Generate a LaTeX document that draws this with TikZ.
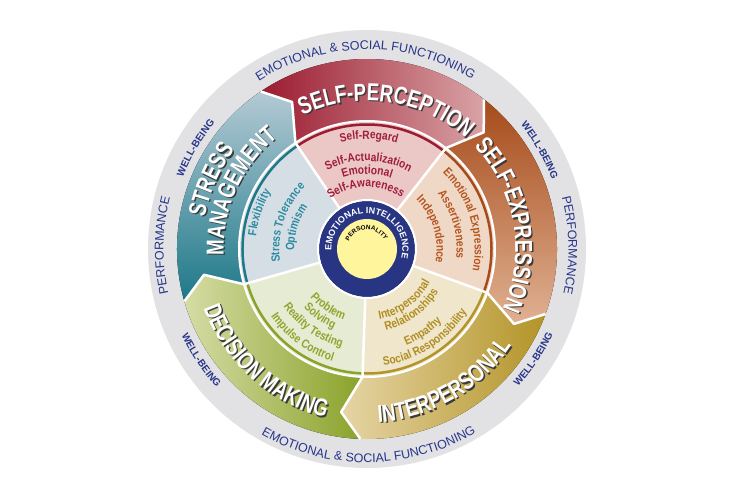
\documentclass[tikz,border=0pt]{standalone}
\usepackage{fontspec}
\setmainfont{Liberation Sans}
\newfontfamily\headfont[FakeStretch=0.76]{Liberation Sans}
\newfontfamily\itemfont[FakeStretch=0.85]{Liberation Sans}
\usetikzlibrary{decorations.text}

\definecolor{ringGray}{HTML}{E2E2E4}
\definecolor{eiNavy}{HTML}{283583}
\definecolor{eiYellow}{HTML}{FFF59D}
\definecolor{txtNavy}{HTML}{27358A}
\definecolor{headShadow}{HTML}{3A3A3A}
\definecolor{spDark}{HTML}{9B1B30}
\definecolor{spLight}{HTML}{D9A3A5}
\definecolor{spPale}{HTML}{EBC7C6}
\definecolor{spText}{HTML}{A11D3D}
\definecolor{seDark}{HTML}{A64B1B}
\definecolor{seLight}{HTML}{E0B192}
\definecolor{sePale}{HTML}{F0D8C6}
\definecolor{seText}{HTML}{B55520}
\definecolor{ipDark}{HTML}{B39427}
\definecolor{ipLight}{HTML}{E6D5A6}
\definecolor{ipPale}{HTML}{EFE6CB}
\definecolor{ipText}{HTML}{B08E22}
\definecolor{dmDark}{HTML}{8AA22A}
\definecolor{dmLight}{HTML}{D5DCA5}
\definecolor{dmPale}{HTML}{E6EBD3}
\definecolor{dmText}{HTML}{8FA52D}
\definecolor{smDark}{HTML}{1D7888}
\definecolor{smMid}{HTML}{5F97A8}
\definecolor{smLight}{HTML}{B3CAD4}
\definecolor{smPale}{HTML}{D5DEE5}
\definecolor{smText}{HTML}{2B8AA0}

\tikzset{
    spband/.style={left color=spDark, middle color=spDark, right color=spLight},
    seband/.style={top color=seDark, middle color=seDark, bottom color=seLight},
    ipband/.style={left color=ipLight, middle color=ipDark, right color=ipDark},
    dmband/.style={left color=dmLight, middle color=dmDark, right color=dmDark},
    smband/.style={top color=smLight, middle color=smMid, bottom color=smDark},
    gap line/.style={white, line width=2.5, line join=bevel}
}

\newcommand{\headtxt}{\headfont\bfseries\fontsize{24.5}{26}\selectfont}
\newcommand{\itemtxt}{\itemfont\bfseries\fontsize{12}{13}\selectfont}
\newcommand{\ringtxt}{\fontsize{12.5}{14}\selectfont}
\newcommand{\welltxt}{\bfseries\fontsize{10}{11}\selectfont}

%band from angle #1 to #1+72, tip at its clockwise end
\newcommand{\bandpath}[1]{(#1+72:190) arc[start angle=#1+72, end angle=#1, radius=190]
    -- (#1-7:165) -- (#1:128) arc[start angle=#1, end angle=#1+72, radius=128]
    -- (#1+65:165) -- cycle}
%text on an arc, letter tops outward
\newcommand{\cwtext}[6][]{%
    \path[#1, decorate, decoration={text along path, text align=center,
        text color=#5, text={#6}}]
        (#3+#4:#2pt) arc[start angle=#3+#4, end angle=#3-#4, radius=#2pt];}
%text on an arc, letter tops inward
\newcommand{\ccwtext}[6][]{%
    \path[#1, decorate, decoration={text along path, text align=center,
        text color=#5, text={#6}}]
        (#3-#4:#2pt) arc[start angle=#3-#4, end angle=#3+#4, radius=#2pt];}
\newcommand{\cwhead}[4]{%
    \cwtext[xshift=1.4pt, yshift=-1.4pt]{#1}{#2}{#3}{headShadow}{|\headtxt|#4}%
    \cwtext{#1}{#2}{#3}{white}{|\headtxt|#4}}
\newcommand{\ccwhead}[4]{%
    \ccwtext[xshift=1.4pt, yshift=-1.4pt]{#1}{#2}{#3}{headShadow}{|\headtxt|#4}%
    \ccwtext{#1}{#2}{#3}{white}{|\headtxt|#4}}

\begin{document}
\begin{tikzpicture}[x=1pt, y=1pt]
    \fill[white] (-367,-251) rectangle (368,249);
        %Outer ring
    \fill[ringGray] (0,0) circle[radius=219];
        %Inner sectors
    \foreach \b/\c in {52/spPale, -20/sePale, -92/ipPale, -164/dmPale, 124/smPale}
    \fill[\c] (0,0) -- (\b:128) arc[start angle=\b, end angle=\b+72, radius=128] -- cycle;
    \foreach \b/\c in {52/spDark, -20/seDark, -92/ipDark, -164/dmDark, 124/smDark}
    \draw[\c, line width=2.5] (\b:124.5) arc[start angle=\b, end angle=\b+72, radius=124.5];
        %Bands
    \fill[spband] \bandpath{52};
    \fill[seband] \bandpath{-20};
    \fill[ipband] \bandpath{-92};
    \fill[dmband] \bandpath{-164};
    \fill[smband] \bandpath{124};
        %White gaps
    \foreach \b in {52, -20, -92, -164, 124}
    \draw[gap line] (\b:48) -- (\b:128) -- (\b-7:165) -- (\b:190);
    \draw[white, line width=2] (0,0) circle[radius=128];
        %Centre
    \fill[eiNavy] (0,0) circle[radius=48];
    \draw[white, line width=2] (0,0) circle[radius=49];
    \fill[eiYellow] (0,0) circle[radius=30];
    \cwtext{35.5}{84}{120}{white}{|\bfseries\fontsize{9}{10}\selectfont|EMOTIONAL INTELLIGENCE}
    \cwtext{19.5}{92}{85}{black}{|\bfseries\fontsize{6.3}{7}\selectfont|PERSONALITY}
        %Ring labels
    \cwtext{199.5}{90.5}{50}{txtNavy}{|\ringtxt|EMOTIONAL {\&} SOCIAL FUNCTIONING}
    \ccwtext{213.5}{-89.5}{50}{txtNavy}{|\ringtxt|EMOTIONAL {\&} SOCIAL FUNCTIONING}
    \cwtext{203.5}{179}{35}{txtNavy}{|\ringtxt|PERFORMANCE}
    \cwtext{201.5}{1}{35}{txtNavy}{|\ringtxt|PERFORMANCE}
    \foreach \a in {149.5, 29.7}
    \cwtext{197.5}{\a}{25}{txtNavy}{|\welltxt|WELL-BEING};
    \foreach \a in {-146.2, -33.5}
    \ccwtext{204.5}{\a}{25}{txtNavy}{|\welltxt|WELL-BEING};
        %Band titles
    \cwhead{148.3}{82}{45}{SELF-PERCEPTION}
    \cwhead{148.3}{10}{45}{SELF-EXPRESSION}
    \ccwhead{173.7}{-60}{45}{INTERPERSONAL}
    \ccwhead{173.7}{-132}{45}{DECISION MAKING}
    \cwhead{165.3}{156}{40}{STRESS}
    \cwhead{143.3}{155.5}{40}{MANAGEMENT}
        %Self-Perception
    \cwtext{110}{89}{40}{spText}{|\itemtxt|Self-Regard}
    \cwtext{88}{89}{45}{spText}{|\itemtxt|Self-Actualization}
    \cwtext{75}{90}{45}{spText}{|\itemtxt|Emotional}
    \cwtext{62}{91}{55}{spText}{|\itemtxt|Self-Awareness}
        %Self-Expression
    \cwtext{107.7}{17}{45}{seText}{|\itemtxt|Emotional Expression}
    \cwtext{89.7}{16}{45}{seText}{|\itemtxt|Assertiveness}
    \cwtext{69.7}{17}{55}{seText}{|\itemtxt|Independence}
        %Interpersonal
    \ccwtext{71.3}{-54}{50}{ipText}{|\itemtxt|Interpersonal}
    \ccwtext{83.3}{-54}{50}{ipText}{|\itemtxt|Relationships}
    \ccwtext{104.3}{-56}{40}{ipText}{|\itemtxt|Empathy}
    \ccwtext{118}{-57}{40}{ipText}{|\itemtxt|Social Responsibility}
        %Decision Making
    \ccwtext{74.3}{-124}{50}{dmText}{|\itemtxt|Problem}
    \ccwtext{86.3}{-125}{50}{dmText}{|\itemtxt|Solving}
    \ccwtext{101.3}{-125}{45}{dmText}{|\itemtxt|Reality Testing}
    \ccwtext{117.5}{-126}{40}{dmText}{|\itemtxt|Impulse Control}
        %Stress Management
    \cwtext{111.7}{161.3}{40}{smText}{|\itemtxt|Flexibility}
    \cwtext{87.7}{161.6}{45}{smText}{|\itemtxt|Stress Tolerance}
    \cwtext{72.7}{163}{50}{smText}{|\itemtxt|Optimism}
\end{tikzpicture}
\end{document}
